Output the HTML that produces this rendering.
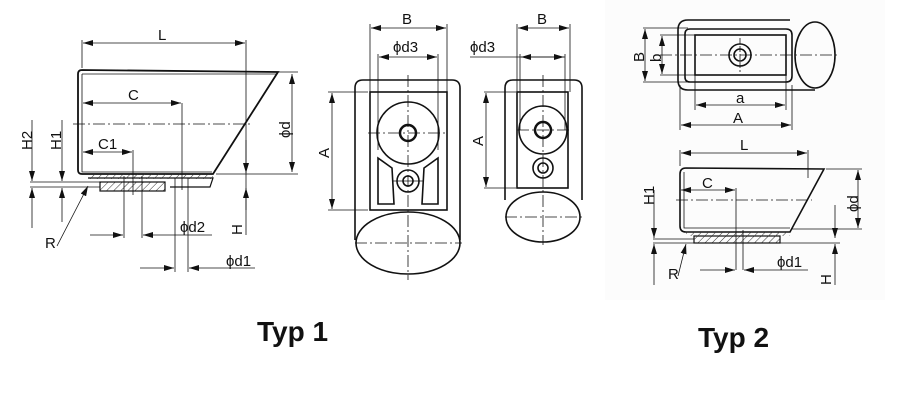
<!DOCTYPE html>
<html><head><meta charset="utf-8"><style>
html,body{margin:0;padding:0;background:#fff;}
svg{display:block}
text{font-family:"Liberation Sans",sans-serif;fill:#111}
.t{font-size:15px}
.b{font-family:"Liberation Sans",sans-serif;font-weight:bold;font-size:28px}
</style></head><body>
<svg width="920" height="418" viewBox="0 0 920 418" xmlns="http://www.w3.org/2000/svg">
<defs>
<marker id="a" viewBox="0 0 10 6" refX="10" refY="3" markerWidth="10" markerHeight="6" orient="auto-start-reverse" markerUnits="userSpaceOnUse"><path d="M0,0L10,3L0,6z" fill="#111"/></marker>
<pattern id="h" width="5" height="5" patternUnits="userSpaceOnUse" patternTransform="rotate(45)"><line x1="0" y1="0" x2="0" y2="5" stroke="#333" stroke-width="1"/></pattern>
</defs>
<rect x="605" y="0" width="280" height="300" fill="#fcfcfc"/>
<g fill="none" stroke="#111" stroke-width="1.8">
<!-- Typ1 side view -->
<path d="M82,70 L278,72 L213,174 L82,174 Q78,174 78,170 L78,74 Q78,70 82,70Z"/>
<path d="M82,74 L276,74" stroke-width="0.8"/>
<path d="M82,74 L82,172 L212,172" stroke-width="0.8"/>
<path d="M88,178 L213,178 L210,187 L170,187" stroke-width="1.2"/>
<rect x="100" y="182" width="65" height="9" fill="url(#h)" stroke-width="1.2"/>
<rect x="88" y="174" width="125" height="5" fill="url(#h)" stroke="none"/>
</g>
<g stroke="#111" stroke-width="0.8" fill="none">
<line x1="82" y1="40" x2="82" y2="68"/><line x1="246" y1="40" x2="246" y2="235"/>
<line x1="83" y1="43" x2="245" y2="43" marker-start="url(#a)" marker-end="url(#a)"/>
<line x1="83" y1="103" x2="181" y2="103" marker-start="url(#a)" marker-end="url(#a)"/>
<line x1="182" y1="103" x2="182" y2="190"/>
<line x1="83" y1="152" x2="132" y2="152" marker-start="url(#a)" marker-end="url(#a)"/>
<line x1="133" y1="150" x2="133" y2="195"/>
<line x1="73" y1="124" x2="252" y2="124" stroke-dasharray="12,3,2,3"/>
<line x1="278" y1="72" x2="298" y2="72"/><line x1="216" y1="174" x2="298" y2="174"/>
<line x1="292" y1="74" x2="292" y2="172" marker-start="url(#a)" marker-end="url(#a)"/>
<line x1="30" y1="182" x2="100" y2="182"/><line x1="30" y1="187" x2="100" y2="187"/>
<line x1="32" y1="120" x2="32" y2="181" marker-end="url(#a)"/><line x1="32" y1="228" x2="32" y2="188" marker-end="url(#a)"/>
<line x1="62" y1="120" x2="62" y2="181" marker-end="url(#a)"/><line x1="62" y1="222" x2="62" y2="188" marker-end="url(#a)"/>
<line x1="246" y1="140" x2="246" y2="173" marker-end="url(#a)"/>
<line x1="246" y1="210" x2="246" y2="188" marker-end="url(#a)"/>
<line x1="124" y1="176" x2="124" y2="238"/><line x1="142" y1="176" x2="142" y2="238"/>
<line x1="90" y1="235" x2="123" y2="235" marker-end="url(#a)"/><line x1="212" y1="235" x2="143" y2="235" marker-end="url(#a)"/>
<line x1="175" y1="178" x2="175" y2="272"/><line x1="188" y1="178" x2="188" y2="272"/>
<line x1="140" y1="268" x2="174" y2="268" marker-end="url(#a)"/><line x1="255" y1="268" x2="189" y2="268" marker-end="url(#a)"/>
<line x1="57" y1="246" x2="88" y2="186" marker-end="url(#a)"/>
</g>
<text class="t" x="158" y="40">L</text>
<text class="t" x="128" y="100">C</text>
<text class="t" x="98" y="149">C1</text>
<text class="t" x="180" y="232">ϕd2</text>
<text class="t" x="226" y="266">ϕd1</text>
<text class="t" x="45" y="248">R</text>
<text class="t" transform="translate(32,150) rotate(-90)">H2</text>
<text class="t" transform="translate(61,150) rotate(-90)">H1</text>
<text class="t" transform="translate(290,138) rotate(-90)">ϕd</text>
<text class="t" transform="translate(242,235) rotate(-90)">H</text>
<!-- Typ1 front view 1 -->
<g fill="none" stroke="#111" stroke-width="1.6">
<path d="M355,240 L355,88 Q355,80 363,80 L452,80 Q460,80 460,88 L460,240"/>
<rect x="370" y="92" width="77" height="118"/>
<circle cx="408" cy="133" r="31"/><circle cx="408" cy="133" r="8" stroke-width="2.5"/>
<circle cx="408" cy="181" r="11"/><circle cx="408" cy="181" r="5"/>
<path d="M378,158 L392,168 L394,204 L378,204Z"/><path d="M438,158 L424,168 L422,204 L438,204Z"/>
<ellipse cx="408" cy="243" rx="52" ry="31"/>
<!-- view 2 -->
<path d="M505,200 L505,88 Q505,80 513,80 L574,80 Q582,80 582,88 L582,200"/>
<rect x="517" y="92" width="51" height="96"/>
<circle cx="543" cy="130" r="24"/><circle cx="543" cy="130" r="8" stroke-width="2.5"/>
<circle cx="543" cy="168" r="10"/><circle cx="543" cy="168" r="5"/>
<ellipse cx="543" cy="217" rx="37" ry="25"/>
</g>
<g stroke="#111" stroke-width="0.8" fill="none">
<line x1="408" y1="75" x2="408" y2="280" stroke-dasharray="12,3,2,3"/>
<line x1="368" y1="133" x2="448" y2="133" stroke-dasharray="12,3,2,3"/>
<line x1="392" y1="181" x2="424" y2="181"/>
<line x1="355" y1="243" x2="462" y2="243" stroke-dasharray="12,3,2,3"/>
<line x1="370" y1="24" x2="370" y2="92"/><line x1="447" y1="24" x2="447" y2="92"/>
<line x1="371" y1="28" x2="446" y2="28" marker-start="url(#a)" marker-end="url(#a)"/>
<line x1="378" y1="54" x2="378" y2="150"/><line x1="438" y1="54" x2="438" y2="150"/>
<line x1="379" y1="57" x2="437" y2="57" marker-start="url(#a)" marker-end="url(#a)"/>
<line x1="328" y1="92" x2="368" y2="92"/><line x1="328" y1="210" x2="368" y2="210"/>
<line x1="332" y1="93" x2="332" y2="209" marker-start="url(#a)" marker-end="url(#a)"/>
<line x1="543" y1="75" x2="543" y2="245" stroke-dasharray="12,3,2,3"/>
<line x1="517" y1="130" x2="570" y2="130" stroke-dasharray="12,3,2,3"/>
<line x1="505" y1="217" x2="584" y2="217" stroke-dasharray="12,3,2,3"/>
<line x1="517" y1="24" x2="517" y2="92"/><line x1="570" y1="24" x2="570" y2="92"/>
<line x1="518" y1="28" x2="569" y2="28" marker-start="url(#a)" marker-end="url(#a)"/>
<line x1="470" y1="57" x2="565" y2="57"/>
<line x1="520" y1="54" x2="520" y2="130"/><line x1="565" y1="54" x2="565" y2="130"/>
<line x1="521" y1="57" x2="564" y2="57" marker-start="url(#a)" marker-end="url(#a)"/>
<line x1="484" y1="92" x2="516" y2="92"/><line x1="484" y1="188" x2="516" y2="188"/>
<line x1="486" y1="93" x2="486" y2="187" marker-start="url(#a)" marker-end="url(#a)"/>
</g>
<text class="t" x="402" y="24">B</text>
<text class="t" x="393" y="52">ϕd3</text>
<text class="t" x="537" y="24">B</text>
<text class="t" x="470" y="52">ϕd3</text>
<text class="t" transform="translate(329,158) rotate(-90)">A</text>
<text class="t" transform="translate(483,146) rotate(-90)">A</text>
<!-- Typ2 top view -->
<g fill="none" stroke="#111" stroke-width="1.6">
<path d="M790,20 L688,20 Q678,20 678,30 L678,80 Q678,90 688,90 L815,90"/>
<path d="M690,29 L786,29 Q792,29 792,35 L792,76 Q792,82 786,82 L690,82 Q685,82 685,77 L685,34 Q685,29 690,29Z"/>
<rect x="695" y="35" width="91" height="40"/>
<circle cx="740" cy="55" r="11"/><circle cx="740" cy="55" r="6"/>
<ellipse cx="815" cy="55" rx="20" ry="33"/>
<!-- Typ2 side -->
<path d="M686,168 L824,169 L790,232 L686,232 Q680,232 680,226 L680,174 Q680,168 686,168Z"/>
<path d="M684,172 L684,228 L790,228" stroke-width="0.8"/>
<rect x="694" y="236" width="86" height="7" fill="url(#h)" stroke-width="1.2"/>
<rect x="686" y="232" width="104" height="4" fill="url(#h)" stroke="none"/>
</g>
<g stroke="#111" stroke-width="0.8" fill="none">
<line x1="660" y1="55" x2="840" y2="55" stroke-dasharray="12,3,2,3"/>
<line x1="740" y1="38" x2="740" y2="72" stroke-dasharray="6,2"/>
<line x1="643" y1="28" x2="688" y2="28"/><line x1="643" y1="82" x2="688" y2="82"/>
<line x1="645" y1="29" x2="645" y2="81" marker-start="url(#a)" marker-end="url(#a)"/>
<line x1="660" y1="35" x2="695" y2="35"/><line x1="660" y1="75" x2="695" y2="75"/>
<line x1="662" y1="36" x2="662" y2="74" marker-start="url(#a)" marker-end="url(#a)"/>
<line x1="695" y1="75" x2="695" y2="110"/><line x1="786" y1="75" x2="786" y2="110"/>
<line x1="696" y1="105" x2="785" y2="105" marker-start="url(#a)" marker-end="url(#a)"/>
<line x1="680" y1="85" x2="680" y2="130"/><line x1="792" y1="85" x2="792" y2="130"/>
<line x1="681" y1="125" x2="791" y2="125" marker-start="url(#a)" marker-end="url(#a)"/>
<line x1="680" y1="150" x2="680" y2="166"/><line x1="808" y1="150" x2="808" y2="178"/>
<line x1="681" y1="153" x2="807" y2="153" marker-start="url(#a)" marker-end="url(#a)"/>
<line x1="681" y1="190" x2="735" y2="190" marker-start="url(#a)" marker-end="url(#a)"/>
<line x1="736" y1="188" x2="736" y2="270"/><line x1="743" y1="230" x2="743" y2="270"/>
<line x1="676" y1="200" x2="812" y2="200" stroke-dasharray="12,3,2,3"/>
<line x1="826" y1="169" x2="862" y2="169"/><line x1="792" y1="229" x2="862" y2="229"/>
<line x1="858" y1="170" x2="858" y2="228" marker-start="url(#a)" marker-end="url(#a)"/>
<line x1="653" y1="239" x2="694" y2="239"/><line x1="653" y1="243" x2="840" y2="243"/>
<line x1="654" y1="190" x2="654" y2="238" marker-end="url(#a)"/><line x1="654" y1="285" x2="654" y2="244" marker-end="url(#a)"/>
<line x1="835" y1="205" x2="835" y2="238" marker-end="url(#a)"/><line x1="835" y1="285" x2="835" y2="244" marker-end="url(#a)"/>
<line x1="700" y1="270" x2="735" y2="270" marker-end="url(#a)"/><line x1="808" y1="270" x2="744" y2="270" marker-end="url(#a)"/>
<line x1="678" y1="276" x2="686" y2="244" marker-end="url(#a)"/>
</g>
<text class="t" x="736" y="103">a</text>
<text class="t" x="733" y="123">A</text>
<text class="t" x="740" y="150">L</text>
<text class="t" x="702" y="188">C</text>
<text class="t" x="777" y="267">ϕd1</text>
<text class="t" x="668" y="279">R</text>
<text class="t" transform="translate(644,62) rotate(-90)">B</text>
<text class="t" transform="translate(661,62) rotate(-90)">b</text>
<text class="t" transform="translate(654,205) rotate(-90)">H1</text>
<text class="t" transform="translate(858,212) rotate(-90)">ϕd</text>
<text class="t" transform="translate(831,285) rotate(-90)">H</text>
<text class="b" x="257" y="341">Typ 1</text>
<text class="b" x="698" y="347">Typ 2</text>
</svg>
</body></html>
